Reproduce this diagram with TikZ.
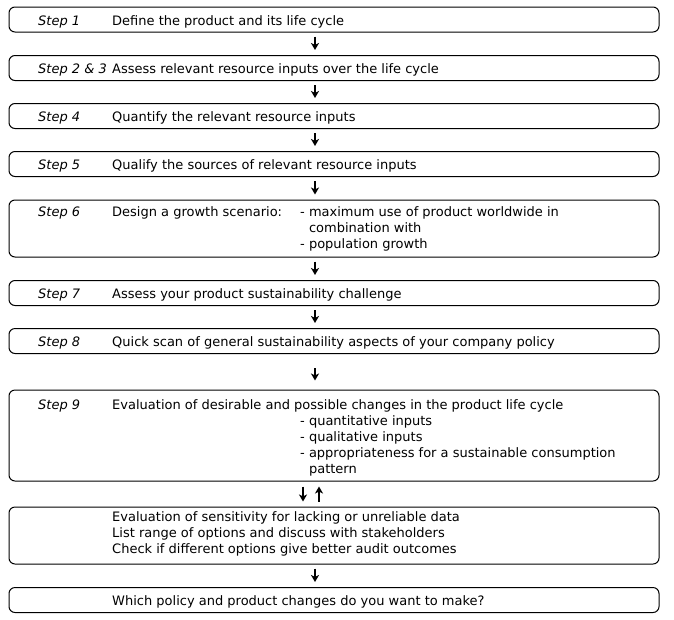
\documentclass[tikz,border=0pt]{standalone}
\usepackage{fontspec}
\setmainfont{DejaVu Sans}
\usetikzlibrary{arrows.meta}
\begin{document}
\begin{tikzpicture}[x=1pt,y=-1pt,
  box/.style={draw, line width=1pt, rounded corners=6pt, inner sep=0pt, minimum width=650pt},
  txt/.style={anchor=base west, inner sep=0pt, font=\fontsize{13}{16}\selectfont},
  stp/.style={anchor=base west, inner sep=0pt, font=\fontsize{13}{16}\selectfont\itshape},
  arr/.style={-{Stealth[length=7pt,width=8pt,inset=2pt]}, line width=1.4pt}]
\useasboundingbox (0,0) rectangle (674,619);
% boxes
\node[box, minimum height=25pt] (b1) at (334,19.5) {};
\node[box, minimum height=25pt] (b2) at (334,68) {};
\node[box, minimum height=25pt] (b3) at (334,116) {};
\node[box, minimum height=25pt] (b4) at (334,164) {};
\node[box, minimum height=57pt] (b5) at (334,228.5) {};
\node[box, minimum height=25pt] (b6) at (334,293) {};
\node[box, minimum height=25pt] (b7) at (334,341) {};
\node[box, minimum height=91pt] (b8) at (334,435.5) {};
\node[box, minimum height=57pt] (b9) at (334,535.5) {};
\node[box, minimum height=25pt] (b10) at (334,600) {};
% texts
\node[stp] (s1) at (38,25) {Step 1};
\node[txt] (t1) at (112,25) {Define the product and its life cycle};
\node[stp] (s2) at (38,73.5) {Step 2 \& 3};
\node[txt] (t2) at (112,73.5) {Assess relevant resource inputs over the life cycle};
\node[stp] (s3) at (38,121.5) {Step 4};
\node[txt] (t3) at (112,121.5) {Quantify the relevant resource inputs};
\node[stp] (s4) at (38,169.5) {Step 5};
\node[txt] (t4) at (112,169.5) {Qualify the sources of relevant resource inputs};
\node[stp] (s5) at (38,216) {Step 6};
\node[txt] (t5) at (112,216) {Design a growth scenario:};
\node[txt] (t5a) at (300,216) {- maximum use of product worldwide in};
\node[txt] (t5b) at (300,232) {\phantom{- }combination with};
\node[txt] (t5c) at (300,248) {- population growth};
\node[stp] (s6) at (38,298.5) {Step 7};
\node[txt] (t6) at (112,298.5) {Assess your product sustainability challenge};
\node[stp] (s7) at (38,346.5) {Step 8};
\node[txt] (t7) at (112,346.5) {Quick scan of general sustainability aspects of your company policy};
\node[stp] (s8) at (38,409) {Step 9};
\node[txt] (t8) at (112,409) {Evaluation of desirable and possible changes in the product life cycle};
\node[txt] (t8a) at (300,425) {- quantitative inputs};
\node[txt] (t8b) at (300,441) {- qualitative inputs};
\node[txt] (t8c) at (300,457) {- appropriateness for a sustainable consumption};
\node[txt] (t8d) at (300,473) {\phantom{- }pattern};
\node[txt] (t9a) at (112,521) {Evaluation of sensitivity for lacking or unreliable data};
\node[txt] (t9b) at (112,537) {List range of options and discuss with stakeholders};
\node[txt] (t9c) at (112,553) {Check if different options give better audit outcomes};
\node[txt] (t10) at (112,605.5) {Which policy and product changes do you want to make?};
% arrows
\coordinate (ax) at (315,0);
\coordinate (dx) at (303,0);
\coordinate (ux) at (319,0);
\draw[arr] ([yshift=-4pt]b1.south -| ax) -- ([yshift=5pt]b2.north -| ax);
\draw[arr] ([yshift=-4pt]b2.south -| ax) -- ([yshift=5pt]b3.north -| ax);
\draw[arr] ([yshift=-4pt]b3.south -| ax) -- ([yshift=5pt]b4.north -| ax);
\draw[arr] ([yshift=-4pt]b4.south -| ax) -- ([yshift=5pt]b5.north -| ax);
\draw[arr] ([yshift=-4pt]b5.south -| ax) -- ([yshift=5pt]b6.north -| ax);
\draw[arr] ([yshift=-4pt]b6.south -| ax) -- ([yshift=5pt]b7.north -| ax);
\draw[arr] ([yshift=-14pt]b7.south -| ax) -- ([yshift=9pt]b8.north -| ax);
\draw[arr] ([yshift=-5pt]b8.south -| dx) -- ([yshift=5pt]b9.north -| dx);
\draw[arr] ([yshift=5pt]b9.north -| ux) -- ([yshift=-5pt]b8.south -| ux);
\draw[arr] ([yshift=-4pt]b9.south -| ax) -- ([yshift=5pt]b10.north -| ax);
\end{tikzpicture}
\end{document}
